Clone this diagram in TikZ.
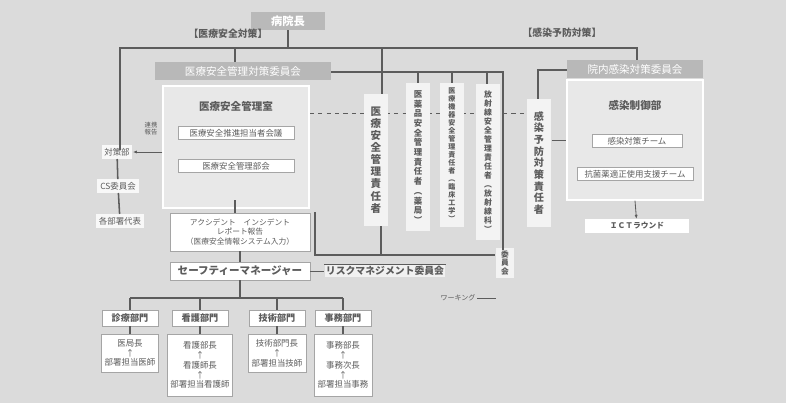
\documentclass[tikz,border=0pt]{standalone}
\usepackage{fontspec}
\newfontfamily\cjk{Noto Sans CJK JP}
\usetikzlibrary{arrows.meta,positioning,backgrounds}
\definecolor{ink}{gray}{0.36}
\definecolor{paper}{gray}{0.86}
\definecolor{panel}{gray}{0.91}
\definecolor{bar}{gray}{0.72}

\begin{document}
\begin{tikzpicture}[x=0.025cm,y=-0.025cm,
    every node/.style={font=\cjk\fontsize{6}{7}\selectfont, text=ink, inner sep=1pt},
    conn/.style={draw=ink, line width=1.1pt},
    fine/.style={draw=ink, line width=0.6pt},
    wbox/.style={draw=ink!55, fill=white, line width=0.6pt, inner sep=2pt},
    plain/.style={fill=white!80!paper, inner sep=2pt},
    hbar/.style={fill=bar, text=white, minimum height=0.45cm},
    panelbox/.style={fill=panel, draw=white, line width=1pt},
    colv/.style={fill=white!65!paper, align=center, minimum width=0.62cm, inner sep=2pt},
    title/.style={font=\cjk\fontsize{7.5}{9}\selectfont\bfseries}
  ]
  \begin{scope}[on background layer]
    \fill[paper] (0,0) rectangle (786,403);
  \end{scope}
  \useasboundingbox (0,0) rectangle (786,403);

  % top
  \node[hbar, fill=gray!55, minimum width=1.85cm, font=\cjk\fontsize{8}{9}\selectfont\bfseries] (chief) at (288,21) {病院長};
  \node[title, font=\cjk\fontsize{7}{8}\selectfont\bfseries] (lblsafe) at (228,34) {【医療安全対策】};
  \node[title, font=\cjk\fontsize{7}{8}\selectfont\bfseries] (lblinf) at (562,33) {【感染予防対策】};

  % medical safety side
  \node[panelbox, minimum width=3.65cm, minimum height=3.05cm] (safepanel) at (236,147) {};
  \node[hbar, minimum width=4.4cm, font=\cjk\fontsize{7.5}{9}\selectfont] (safecom) at (243,71) {医療安全管理対策委員会};
  \node[title] (safeoffice) at (236,106) {医療安全管理室};
  \node[wbox, minimum width=2.9cm] (safemeet) at (236,133) {医療安全推進担当者会議};
  \node[wbox, minimum width=2.9cm] (safegroup) at (236,166) {医療安全管理部会};
  \node[wbox, align=center, minimum width=3.5cm, minimum height=0.95cm, font=\cjk\fontsize{5.5}{6.6}\selectfont] (report) at (240,232)
    {アクシデント　インシデント\\レポート報告\\（医療安全情報システム入力）};
  \node[wbox, minimum width=3.5cm, minimum height=0.45cm, font=\cjk\fontsize{7.5}{9}\selectfont\bfseries] (sman) at (240,271) {セーフティーマネージャー};
  \node[font=\cjk\fontsize{7}{8}\selectfont\bfseries, fill=white!60!paper] (riskcom) at (385,271) {リスクマネジメント委員会};
  \node[font=\cjk\fontsize{5}{6}\selectfont] (working) at (458,298) {ワーキング};

  % left chain
  \node[plain] (taisaku) at (117,152) {対策部};
  \node[plain] (csc) at (118,186) {CS委員会};
  \node[plain] (busho) at (120,221) {各部署代表};
  \node[align=center, font=\cjk\fontsize{4.5}{5}\selectfont] (renkei) at (151,129) {連携\\報告};

  % columns
  \node[colv, minimum height=3.3cm, font=\cjk\fontsize{7.5}{8.6}\selectfont\bfseries] (colsafe) at (376,160)
    {医\\療\\安\\全\\管\\理\\責\\任\\者};
  \node[colv, minimum height=3.7cm, font=\cjk\fontsize{6}{6.9}\selectfont\bfseries] (coldrug) at (418,157)
    {医\\薬\\品\\安\\全\\管\\理\\責\\任\\者\\︵\\薬\\局\\︶};
  \node[colv, minimum height=3.6cm, font=\cjk\fontsize{5}{5.7}\selectfont\bfseries] (coldev) at (452,155)
    {医\\療\\機\\器\\安\\全\\管\\理\\責\\任\\者\\︵\\臨\\床\\工\\学\\︶};
  \node[colv, minimum height=3.9cm, font=\cjk\fontsize{5.6}{6.4}\selectfont\bfseries] (colray) at (488,162)
    {放\\射\\線\\安\\全\\管\\理\\責\\任\\者\\︵\\放\\射\\線\\科\\︶};
  \node[colv, minimum height=3.2cm, font=\cjk\fontsize{7.2}{8.3}\selectfont\bfseries] (colinf) at (539,163)
    {感\\染\\予\\防\\対\\策\\責\\任\\者};
  \node[colv, minimum width=0.45cm, font=\cjk\fontsize{5.5}{6.2}\selectfont\bfseries] (smallcom) at (505,263)
    {委\\員\\会};

  % infection side
  \node[panelbox, minimum width=3.4cm, minimum height=3.0cm] (infpanel) at (635,140) {};
  \node[hbar, minimum width=3.4cm, font=\cjk\fontsize{7.5}{9}\selectfont] (infcom) at (635,69) {院内感染対策委員会};
  \node[title] (infdept) at (635,105) {感染制御部};
  \node[wbox, minimum width=2.25cm] (ictteam) at (637,141) {感染対策チーム};
  \node[wbox, minimum width=2.9cm] (astteam) at (635,174) {抗菌薬適正使用支援チーム};
  \node[fill=white, minimum width=2.6cm, minimum height=0.33cm, font=\cjk\fontsize{5.5}{6.5}\selectfont\bfseries] (ictround) at (637,226) {ＩＣＴラウンド};

  % departments
  \foreach \nm/\xx/\tx in {clin/130/診療部門, nurse/200/看護部門, tech/277/技術部門, office/343/事務部門}
    \node[wbox, minimum width=1.4cm, minimum height=0.4cm, font=\cjk\fontsize{6.5}{8}\selectfont\bfseries] (\nm) at (\xx,318) {\tx};
  \node[wbox, align=center, minimum width=1.4cm, minimum height=0.95cm] (clinsub) at (130,353) {医局長\\↑\\部署担当医師};
  \node[wbox, align=center, minimum width=1.4cm, minimum height=1.55cm] (nursesub) at (200,365) {看護部長\\↑\\看護師長\\↑\\部署担当看護師};
  \node[wbox, align=center, minimum width=1.45cm, minimum height=0.95cm] (techsub) at (277,353) {技術部門長\\↑\\部署担当技師};
  \node[wbox, align=center, minimum width=1.45cm, minimum height=1.55cm] (officesub) at (343,365) {事務部長\\↑\\事務次長\\↑\\部署担当事務};

  % connectors
  \draw[conn] (chief) -- (288,48);
  \draw[conn] (120,150) -- (120,48) -- (637,48) -- (infcom.north -| 637,0);
  \draw[conn] (235,48) -- (safecom.north -| 235,0);
  \draw[conn] (taisaku) -- (csc);
  \draw[conn] (csc) -- (busho);
  \draw[fine, -{Latex[length=3pt]}] (safepanel.west |- taisaku) -- (taisaku);
  \draw[conn] (382,48) -- (colsafe.north -| 382,0);
  \draw[conn] (safecom.east |- 0,72) -- (503,72) -- (503,250);
  \foreach \cl/\xx in {coldrug/418, coldev/452, colray/487}
    \draw[conn] (\xx,72) -- (\cl.north -| \xx,0);
  \draw[conn] (colinf.north -| 538,0) -- (538,70) -- (infcom.west |- 0,70);
  \draw[fine] (colinf.east |- 0,140) -- (infpanel.west |- 0,140);
  \begin{scope}[on background layer]
    \draw[fine, dashed] (safepanel.east |- 0,113) -- (colray.west |- 0,113);
    \draw[fine, dashed] (503,113) -- (colinf.west |- 0,113);
  \end{scope}
  \draw[conn] (235,200) -- (report.north -| 235,0);
  \draw[conn] (report) -- (sman);
  \draw[conn] (315,212) -- (315,255) -- (495,255);
  \draw[conn] (colsafe.south -| 381,0) -- (381,255);
  \draw[fine] (sman) -- (riskcom);
  \draw[fine] (riskcom.north west) -- (riskcom.north east);
  \draw[fine] (working) -- (smallcom.west |- working);
  \draw[fine, -{Latex[length=3pt]}] (infpanel.south -| 635,0) -- (ictround);
  \draw[conn] (sman) -- (240,298);
  \draw[conn] (130,298) -- (343,298);
  \foreach \nm in {clin, nurse, tech, office} {
    \draw[conn] (\nm |- 0,298) -- (\nm);
    \draw[conn] (\nm) -- (\nm sub);
  }
\end{tikzpicture}
\end{document}
